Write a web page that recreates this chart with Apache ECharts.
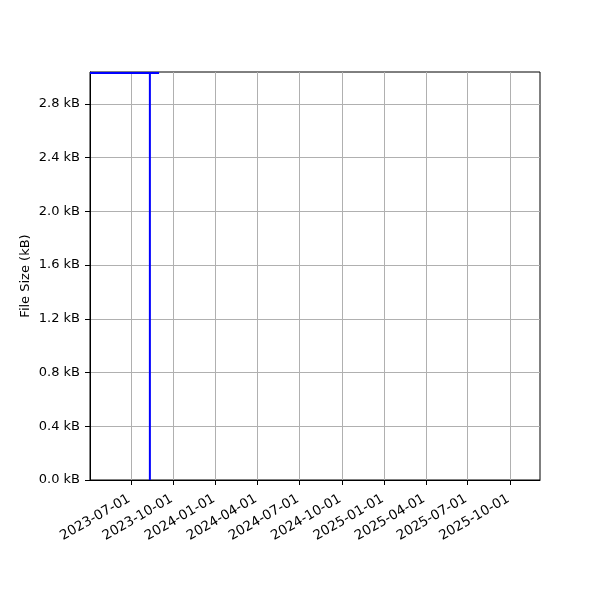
<!DOCTYPE html>
<html>
<head>
<meta charset="utf-8">
<script src="https://cdn.jsdelivr.net/npm/echarts@6/dist/echarts.min.js"></script>
<style>html,body{margin:0;padding:0;background:#fff}#c{width:600px;height:600px}</style>
</head>
<body>
<div id="c"></div>
<script>
// x axis range and ticks
var xMin = '2023-04-03';
var xMax = '2025-12-05';
var xTickDates = ['2023-07-01','2023-10-01','2024-01-01','2024-04-01','2024-07-01','2024-10-01','2025-01-01','2025-04-01','2025-07-01','2025-10-01'];
// y axis
var yMin = 0;
var yMax = 3.038;
var yTicks = [0, 0.4, 0.8, 1.2, 1.6, 2.0, 2.4, 2.8];
// series: vertical marker line
var vlineDates = ['2023-08-11', '2023-08-11'];
var vlineValues = [0, 3.038];
// series: file size line
var sizeDates = ['2023-04-03', '2023-08-31'];
var sizeValues = [3.03, 3.03];

function ts(s){ var p=s.split('-'); return Date.UTC(+p[0], +p[1]-1, +p[2]); }
function pad(n){ return (n<10?'0':'')+n; }
function fmtDate(v){ var d=new Date(v); return d.getUTCFullYear()+'-'+pad(d.getUTCMonth()+1)+'-'+pad(d.getUTCDate()); }

var chart = echarts.init(document.getElementById('c'), null, {renderer:'canvas'});
var font = 'DejaVu Sans';
chart.setOption({
  animation: false,
  grid: {left: 90, right: 60, top: 72, bottom: 120, show: true, borderColor: '#000', borderWidth: 1, backgroundColor: 'transparent'},
  xAxis: {
    type: 'value',
    min: ts(xMin), max: ts(xMax),
    axisLine: {show: true, onZero: false, lineStyle: {color: '#000', width: 1}},
    axisTick: {show: true, length: 5, lineStyle: {color: '#000'}, customValues: xTickDates.map(ts)},
    axisLabel: {show: true, rotate: 30, margin: 17, padding: [0, 2, 0, 0], color: '#000', fontFamily: font, fontSize: 13.5,
      customValues: xTickDates.map(ts), formatter: function(v){ return fmtDate(v); }, hideOverlap: false},
    splitLine: {show: true, lineStyle: {color: '#b0b0b0', width: 1}}
  },
  yAxis: {
    type: 'value',
    min: yMin, max: yMax,
    name: 'File Size (kB)', nameLocation: 'middle', nameGap: 58, nameRotate: 90, nameMoveOverlap: false,
    nameTextStyle: {color: '#000', fontFamily: font, fontSize: 13},
    axisLine: {show: true, lineStyle: {color: '#000', width: 1}},
    axisTick: {show: true, length: 5, lineStyle: {color: '#000'}, customValues: yTicks},
    axisLabel: {show: true, margin: 10, color: '#000', fontFamily: font, fontSize: 13,
      customValues: yTicks, formatter: function(v){ return v.toFixed(1) + ' kB'; }},
    splitLine: {show: true, lineStyle: {color: '#b0b0b0', width: 1}}
  },
  series: [
    {type: 'line', data: sizeDates.map(function(d,i){return [ts(d), sizeValues[i]];}),
      showSymbol: false, symbol: 'none', lineStyle: {color: '#0000ff', width: 2}, clip: true, z: 3},
    {type: 'line', data: vlineDates.map(function(d,i){return [ts(d), vlineValues[i]];}),
      showSymbol: false, symbol: 'none', lineStyle: {color: '#0000ff', width: 2}, clip: true, z: 4}
  ]
});
</script>
</body>
</html>
